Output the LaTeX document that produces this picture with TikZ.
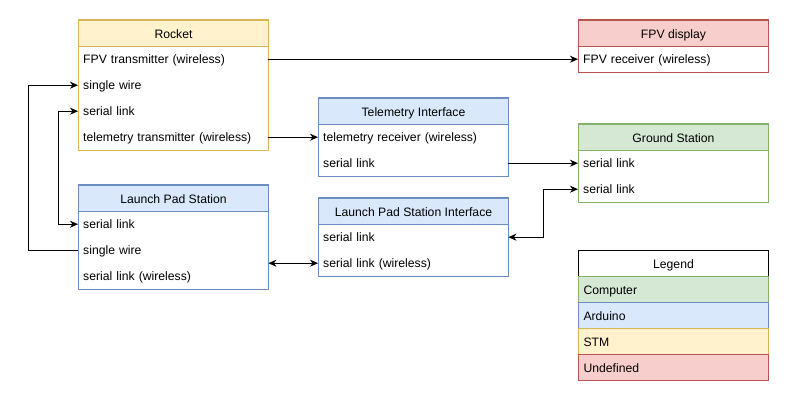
\documentclass[tikz,border=0pt]{standalone}
\usepackage{fontspec}
\setmainfont{Liberation Sans}
\usetikzlibrary{arrows.meta}
\definecolor{yfill}{HTML}{FFF2CC}\definecolor{ystroke}{HTML}{D6B656}
\definecolor{bfill}{HTML}{DAE8FC}\definecolor{bstroke}{HTML}{6C8EBF}
\definecolor{gfill}{HTML}{D5E8D4}\definecolor{gstroke}{HTML}{82B366}
\definecolor{rfill}{HTML}{F8CECC}\definecolor{rstroke}{HTML}{B85450}
\tikzset{
  hdr/.style={draw, line width=1pt, minimum width=190pt, minimum height=26pt, anchor=north west, inner sep=0pt, text height=11.5pt, text depth=2pt, font=\fontsize{12.2}{14}\selectfont},
  rowbox/.style={minimum height=26pt, anchor=north west, inner xsep=5pt, inner ysep=0pt, text width=180pt, align=left, text height=11.5pt, text depth=2pt, font=\fontsize{12.2}{14}\selectfont},
  frame/.style={draw, line width=1pt},
  conn/.style={line width=1pt, -{Stealth[length=8pt,width=7pt,inset=2.5pt]}},
  bconn/.style={line width=1pt, {Stealth[length=8pt,width=7pt,inset=2.5pt]}-{Stealth[length=8pt,width=7pt,inset=2.5pt]}}
}
\begin{document}
\begin{tikzpicture}[x=1pt,y=-1pt]
\useasboundingbox[fill=white] (0,0) rectangle (788,403);
% Rocket
\node[hdr, fill=yfill, draw=ystroke] (rocket) at (78,20) {Rocket};
\node[rowbox] (rocket1) at (78,46) {FPV transmitter (wireless)};
\node[rowbox] (rocket2) at (78,72) {single wire};
\node[rowbox] (rocket3) at (78,98) {serial link};
\node[rowbox] (rocket4) at (78,124) {telemetry transmitter (wireless)};
\draw[frame, draw=ystroke] (rocket.north west) rectangle (rocket4.south east);
% Launch Pad Station
\node[hdr, fill=bfill, draw=bstroke] (lps) at (78,185) {Launch Pad Station};
\node[rowbox] (lps1) at (78,211) {serial link};
\node[rowbox] (lps2) at (78,237) {single wire};
\node[rowbox] (lps3) at (78,263) {serial link (wireless)};
\draw[frame, draw=bstroke] (lps.north west) rectangle (lps3.south east);
% Telemetry Interface
\node[hdr, fill=bfill, draw=bstroke] (ti) at (318,98) {Telemetry Interface};
\node[rowbox] (ti1) at (318,124) {telemetry receiver (wireless)};
\node[rowbox] (ti2) at (318,150) {serial link};
\draw[frame, draw=bstroke] (ti.north west) rectangle (ti2.south east);
% Launch Pad Station Interface
\node[hdr, fill=bfill, draw=bstroke] (lpsi) at (318,198) {Launch Pad Station Interface};
\node[rowbox] (lpsi1) at (318,224) {serial link};
\node[rowbox] (lpsi2) at (318,250) {serial link (wireless)};
\draw[frame, draw=bstroke] (lpsi.north west) rectangle (lpsi2.south east);
% FPV display
\node[hdr, fill=rfill, draw=rstroke] (fpv) at (578,20) {FPV display};
\node[rowbox] (fpv1) at (578,46) {FPV receiver (wireless)};
\draw[frame, draw=rstroke] (fpv.north west) rectangle (fpv1.south east);
% Ground Station
\node[hdr, fill=gfill, draw=gstroke] (gs) at (578,124) {Ground Station};
\node[rowbox] (gs1) at (578,150) {serial link};
\node[rowbox] (gs2) at (578,176) {serial link};
\draw[frame, draw=gstroke] (gs.north west) rectangle (gs2.south east);
% Legend
\node[hdr, fill=white, draw=black] (leg) at (578,250) {Legend};
\node[rowbox, fill=gfill, draw=gstroke, line width=1pt] (leg1) at (578,276) {Computer};
\node[rowbox, fill=bfill, draw=bstroke, line width=1pt] (leg2) at (578,302) {Arduino};
\node[rowbox, fill=yfill, draw=ystroke, line width=1pt] (leg3) at (578,328) {STM};
\node[rowbox, fill=rfill, draw=rstroke, line width=1pt] (leg4) at (578,354) {Undefined};
% Connectors
\draw[conn] (rocket1.east) -- (fpv1.west);
\draw[conn] (rocket4.east) -- (ti1.west);
\draw[conn] (ti2.east) -- (gs1.west);
\draw[conn] (lps2.west) -- ++(-50,0) |- (rocket2.west);
\draw[bconn] (rocket3.west) -- ++(-20,0) |- (lps1.west);
\draw[bconn] (gs2.west) -- ++(-35,0) |- (lpsi1.east);
\draw[bconn] (lpsi2.west -| lps3.east) -- (lpsi2.west);
\end{tikzpicture}
\end{document}
